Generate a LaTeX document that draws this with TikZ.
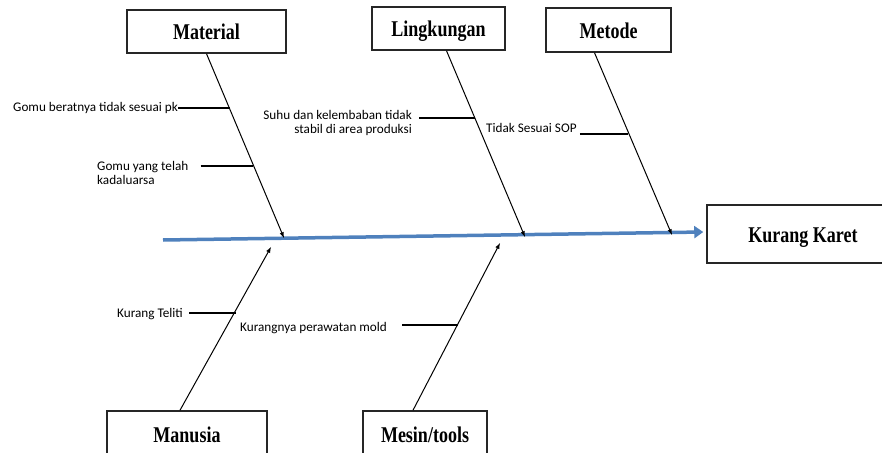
\documentclass[tikz,border=0pt]{standalone}
\usepackage{fontspec}
\setmainfont{Liberation Serif}
\newfontfamily\calib{Carlito}
\usetikzlibrary{arrows,arrows.meta}
\definecolor{spineblue}{RGB}{79,129,189}
\newcommand{\tall}[1]{\scalebox{1}[1.25]{#1}}
\tikzstyle{cat}=[draw=black!85,line width=1.5pt,inner sep=0pt,text height=19pt,text depth=2pt,
	font=\fontsize{18}{20}\selectfont\bfseries]
\tikzstyle{bone} = [draw,line width=1pt,-latex]
\tikzstyle{twig} = [draw,line width=1.1pt]
\tikzstyle{cause} = [inner sep=0pt,font=\calib\fontsize{13.2}{14.5}\selectfont]
\tikzstyle{spine} = [draw,line width=3.5pt,spineblue,-{Triangle[length=9pt,width=12pt]}]

\begin{document}
\begin{tikzpicture}[x=1pt,y=-1pt]
				\useasboundingbox (0,0) rectangle (882,452);
				% First we draw the boxes
				\node[cat,minimum width=159,minimum height=43] (mat) at (206.5,31.5) {\tall{Material}};
				\node[cat,minimum width=133,minimum height=43] (lin) at (438.5,28.5) {\tall{Lingkungan}};
				\node[cat,minimum width=125,minimum height=44] (met) at (608.5,30) {\tall{Metode}};
				\node[cat,minimum width=192,minimum height=58] (kk) at (803,234) {\tall{Kurang Karet}};
				\node[cat,minimum width=160,minimum height=45] (man) at (187,433.5) {\tall{Manusia}};
				\node[cat,minimum width=124,minimum height=45] (mes) at (425,433.5) {\tall{Mesin/tools}};

				% Spine and the points where the bones meet it
				\coordinate (tail) at (163,240);
				\coordinate (matTip) at (284,238);
				\coordinate (linTip) at (525,237);
				\coordinate (metTip) at (672,235);
				\coordinate (manTip) at (271,247);
				\coordinate (mesTip) at (500,243);
				\path[spine] (tail) -- ([xshift=-3pt,yshift=2pt]kk.west);

				% Bones from the boxes to the spine
				\path[bone] (mat.south) -- (matTip);
				\path[bone] ([xshift=8pt]lin.south) -- (linTip);
				\path[bone] ([xshift=-14pt]met.south) -- (metTip);
				\path[bone] ([xshift=-7pt]man.north) -- (manTip);
				\path[bone] ([xshift=-12pt]mes.north) -- (mesTip);

				% Causes
				\node[cause,anchor=west] (g1) at (13,108) {Gomu beratnya tidak sesuai pk};
				\node[cause,anchor=west,align=left] (g2) at (97,173) {Gomu yang telah\\kadaluarsa};
				\node[cause,anchor=east,align=right] (s1) at (412,123) {Suhu dan kelembaban tidak\\stabil di area produksi};
				\node[cause,anchor=west] (t1) at (486,128) {Tidak Sesuai SOP};
				\node[cause,anchor=west] (k1) at (117,314) {Kurang Teliti};
				\node[cause,anchor=west] (k2) at (240,328) {Kurangnya perawatan mold};

				\coordinate (b1) at (230,108);
				\coordinate (b2) at (253,166);
				\coordinate (b3) at (475,118);
				\coordinate (b4) at (628,134);
				\coordinate (b5) at (236,313);
				\coordinate (b6) at (458,325);

				% Connect causes with their bones
				\foreach \source/\gap/\dest in {g1/0/b1, g2/12/b2, s1/7/b3, t1/3/b4, k1/6/b5, k2/15/b6}
				\path[twig,shorten <=\gap pt] (\source.east |- \dest) -- (\dest);
			\end{tikzpicture}
\end{document}
